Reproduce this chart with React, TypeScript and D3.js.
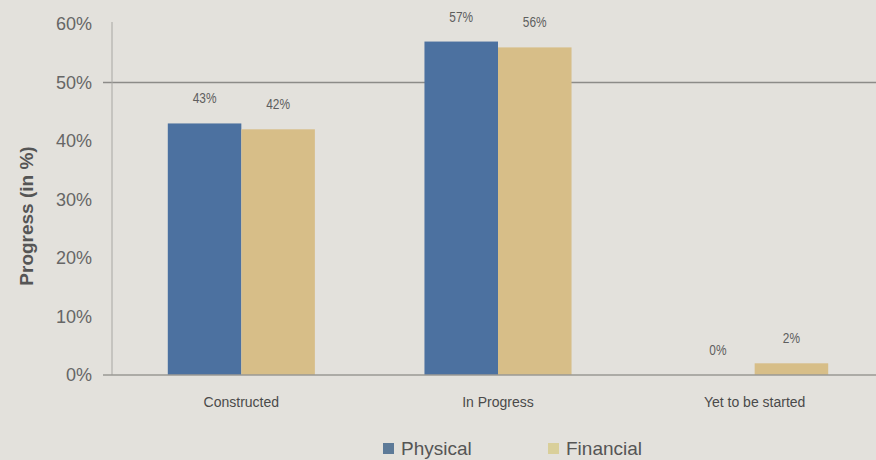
import React from "react";
import * as d3 from "d3";

const categories = ["Constructed", "In Progress", "Yet to be started"];
const seriesNames = ["Physical", "Financial"];
const physical = [0.43, 0.57, 0.0];
const financial = [0.42, 0.56, 0.02];
const yTicks = [0, 0.1, 0.2, 0.3, 0.4, 0.5, 0.6];
const colors = ["#4c71a0", "#d7be88"];

const W = 876;
const H = 460;

export default function App() {
  const x = d3.scaleBand<string>().domain(categories).range([113, 883]).paddingInner(0.427).paddingOuter(0.2135);
  const xs = d3.scaleBand<string>().domain(seriesNames).range([0, x.bandwidth()]);
  const y = d3.scaleLinear().domain([0, 0.6]).range([375, 24]);
  const fmt = d3.format(".0%");
  const values = [physical, financial];
  const legendX = [383, 548];

  return (
    <svg width={W} height={H} style={{ position: "absolute", left: 0, top: 0, background: "#e3e1dc" }} fontFamily="'Liberation Sans', Arial, sans-serif">
      <rect x={0} y={0} width={W} height={H} fill="#e3e1dc" />
      {/* gridline at 50% */}
      <line x1={103} x2={W} y1={y(0.5)} y2={y(0.5)} stroke="#8c8b88" strokeWidth={1.5} />
      {/* y axis line */}
      <line x1={112} x2={112} y1={y(0.6) - 2} y2={y(0)} stroke="#a8a7a3" strokeWidth={1} />
      {/* bars */}
      {seriesNames.map((s, si) =>
        categories.map((c, ci) => {
          const v = values[si][ci];
          const bx = (x(c) ?? 0) + (xs(s) ?? 0);
          const cx = bx + xs.bandwidth() / 2;
          return (
            <g key={s + c}>
              <rect x={bx} y={y(v)} width={xs.bandwidth()} height={y(0) - y(v)} fill={colors[si]} />
              <text transform={`translate(${cx},${y(v) - 20}) scale(0.85,1.05)`} textAnchor="middle" fontSize={14} fill="#5e5e5e">
                {fmt(v)}
              </text>
            </g>
          );
        })
      )}
      {/* baseline */}
      <line x1={103} x2={W} y1={y(0)} y2={y(0)} stroke="#9a9995" strokeWidth={1.5} />
      {/* y tick labels */}
      {yTicks.map((t) => (
        <text key={t} x={92} y={y(t)} dy="0.35em" textAnchor="end" fontSize={18} fill="#666">
          {fmt(t)}
        </text>
      ))}
      {/* x labels */}
      {categories.map((c) => (
        <text key={c} x={(x(c) ?? 0) + x.bandwidth() / 2} y={402} dy="0.35em" textAnchor="middle" fontSize={14} fill="#4a4a4a">
          {c}
        </text>
      ))}
      {/* y title */}
      <text transform={`translate(26,216) rotate(-90)`} textAnchor="middle" dy="0.35em" fontSize={19} fontWeight="bold" fill="#555">
        Progress (in %)
      </text>
      {/* legend */}
      {seriesNames.map((s, i) => {
        const lx = legendX[i];
        return (
          <g key={s}>
            <rect x={lx} y={443} width={11} height={11} fill={i === 0 ? "#5d7a98" : "#d9cf9a"} />
            <text x={lx + 18} y={455} fontSize={19} fill="#555">
              {s}
            </text>
          </g>
        );
      })}
    </svg>
  );
}
